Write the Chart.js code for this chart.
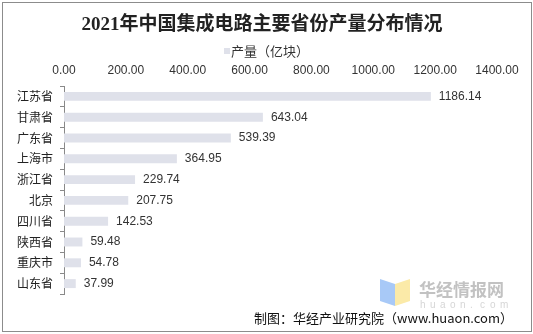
<!DOCTYPE html>
<html>
<head>
<meta charset="utf-8">
<script src="https://cdn.jsdelivr.net/npm/chart.js@4/dist/chart.umd.min.js"></script>
<style>
  html, body { margin: 0; padding: 0; background: #fff; }
  #wrap { width: 533px; height: 334px; position: relative; }
</style>
</head>
<body>
<div id="wrap"><canvas id="chart-bar"></canvas></div>
<script>
// 省份与产量（亿块）
const provinces = ['江苏省', '甘肃省', '广东省', '上海市', '浙江省', '北京', '四川省', '陕西省', '重庆市', '山东省'];
const output = [1186.14, 643.04, 539.39, 364.95, 229.74, 207.75, 142.53, 59.48, 54.78, 37.99];
const axisMin = 0;
const axisMax = 1400;
const axisStep = 200;

const titleText = '2021年中国集成电路主要省份产量分布情况';
const seriesName = '产量（亿块）';
const barColor = '#dfe1ea';

const cjk = '"Noto Sans CJK SC", "Noto Sans", sans-serif';
const latin = '"Liberation Sans", Arial, sans-serif';

// 标题、图例、数值标签、外框、水印和来源
const extras = {
    id: 'extras',
    afterDatasetsDraw(chart) {
        const ctx = chart.ctx;
        const meta = chart.getDatasetMeta(0);
        ctx.save();
        ctx.font = '12px ' + latin;
        ctx.fillStyle = '#333';
        ctx.textBaseline = 'middle';
        ctx.textAlign = 'left';
        meta.data.forEach((bar, i) => {
            ctx.fillText(output[i].toFixed(2), bar.x + 8, bar.y);
        });
        ctx.restore();
    },
    afterDraw(chart) {
        const ctx = chart.ctx;
        ctx.save();
        ctx.textBaseline = 'middle';

        // 标题
        ctx.fillStyle = '#222';
        ctx.font = 'bold 19px "Liberation Serif", "Noto Sans CJK SC", serif';
        ctx.textAlign = 'center';
        ctx.fillText(titleText, 262, 25);

        // 图例
        ctx.fillStyle = barColor;
        ctx.fillRect(224, 48, 6, 6);
        ctx.fillStyle = '#333';
        ctx.font = '13px ' + cjk;
        ctx.textAlign = 'left';
        ctx.fillText(seriesName, 231, 51);

        // logo
        ctx.fillStyle = '#a8c9f7';
        ctx.beginPath();
        ctx.moveTo(380, 279); ctx.lineTo(395, 284); ctx.lineTo(395, 306); ctx.lineTo(380, 301);
        ctx.closePath(); ctx.fill();
        ctx.fillStyle = '#fbeaa8';
        ctx.beginPath();
        ctx.moveTo(395, 284); ctx.lineTo(410, 279); ctx.lineTo(410, 301); ctx.lineTo(395, 306);
        ctx.closePath(); ctx.fill();

        ctx.fillStyle = '#c2c2c2';
        ctx.font = 'bold 17px ' + cjk;
        ctx.fillText('华经情报网', 419, 290);
        ctx.fillStyle = '#d6d6d6';
        ctx.font = '10px ' + latin;
        const site = 'huaon.com';
        for (let i = 0; i < site.length; i++) {
            ctx.fillText(site[i], 420 + i * 10, 305);
        }

        // 来源
        ctx.fillStyle = '#111';
        ctx.font = '13px ' + cjk;
        ctx.textAlign = 'right';
        ctx.fillText('制图：华经产业研究院（www.huaon.com）', 513, 318);

        // 外框
        ctx.strokeStyle = '#8c8c8c';
        ctx.lineWidth = 1;
        ctx.strokeRect(2.5, 2.5, 529, 329);
        ctx.restore();
    }
};

const chartbar = document.getElementById('chart-bar');

new Chart(chartbar, {
    type: 'bar',
    data: {
        labels: provinces,
        datasets: [{
            label: seriesName,
            data: output,
            backgroundColor: barColor,
            barPercentage: 0.43,
            categoryPercentage: 1
        }]
    },
    options: {
        indexAxis: 'y',
        responsive: true,
        maintainAspectRatio: false,
        animation: false,
        layout: {
            padding: { left: 0, right: 36, top: 62, bottom: 40 }
        },
        scales: {
            x: {
                position: 'top',
                min: axisMin,
                max: axisMax,
                grid: { display: false, drawTicks: false },
                border: { display: false },
                ticks: {
                    stepSize: axisStep,
                    color: '#333',
                    padding: 8,
                    font: { family: latin, size: 12 },
                    callback: v => v.toFixed(2)
                },
                afterFit(scale) { scale.height = 24; }
            },
            y: {
                grid: {
                    offset: true,
                    drawOnChartArea: false,
                    drawTicks: true,
                    tickLength: 4,
                    color: '#898989'
                },
                border: { display: true, color: '#898989' },
                ticks: {
                    color: '#222',
                    padding: 7,
                    font: { family: cjk, size: 12 }
                },
                afterFit(scale) { scale.width = 64; }
            }
        },
        plugins: {
            title: { display: false },
            legend: { display: false },
            tooltip: { enabled: false }
        }
    },
    plugins: [extras]
});
</script>
</body>
</html>
